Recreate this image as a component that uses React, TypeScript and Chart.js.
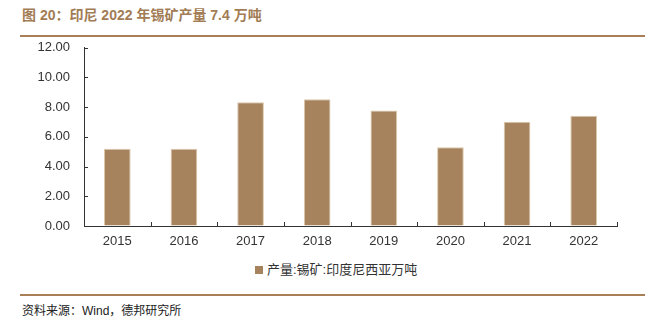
import React, { useEffect, useRef } from "react";
import { Chart, registerables } from "chart.js";

Chart.register(...registerables);

const categories = ["2015", "2016", "2017", "2018", "2019", "2020", "2021", "2022"];
const tinOutput = [5.2, 5.2, 8.33, 8.53, 7.78, 5.3, 7.02, 7.42];
const seriesLabel = "产量:锡矿:印度尼西亚万吨";
const yTicks = [0, 2, 4, 6, 8, 10, 12];

const FONT_NUM = "'Liberation Sans', Arial, sans-serif";
const FONT_CJK = "'Liberation Sans', 'Noto Sans CJK SC', sans-serif";
const BAR_COLOR = "#a6835c";

const innerTicks = {
  id: "innerTicks",
  afterDraw(chart: any) {
    const { ctx, chartArea, scales } = chart;
    const x = scales.x;
    const y = scales.y;
    ctx.save();
    ctx.strokeStyle = "#333333";
    ctx.lineWidth = 1;
    ctx.beginPath();
    yTicks.forEach((v) => {
      const py = Math.round(y.getPixelForValue(v)) + 0.5;
      ctx.moveTo(chartArea.left, py);
      ctx.lineTo(chartArea.left + 4, py);
    });
    for (let i = 1; i <= categories.length; i++) {
      const px = Math.round(x.getPixelForValue(i - 0.5)) + 0.5;
      ctx.moveTo(px, chartArea.bottom);
      ctx.lineTo(px, chartArea.bottom - 4);
    }
    ctx.stroke();
    ctx.restore();
  },
};

export default function App() {
  const ref = useRef<HTMLCanvasElement>(null);
  useEffect(() => {
    if (!ref.current) return;
    const chart = new Chart(ref.current, {
      type: "bar",
      data: {
        labels: categories,
        datasets: [
          {
            label: seriesLabel,
            data: tinOutput,
            backgroundColor: BAR_COLOR,
            borderColor: "#dcc8aa",
            borderWidth: 1,
            barPercentage: 0.4,
            categoryPercentage: 1,
          },
        ],
      },
      options: {
        animation: false,
        responsive: false,
        maintainAspectRatio: false,
        layout: { padding: { top: 20, right: 33, left: 0, bottom: 0 } },
        plugins: {
          tooltip: { enabled: false },
          legend: { display: false },
        },
        scales: {
          x: {
            offset: true,
            grid: { display: true, drawOnChartArea: false, drawTicks: false, color: "#333333" },
            border: { display: true, color: "#333333", width: 1 },
            ticks: { color: "#333333", font: { family: FONT_NUM, size: 13 }, padding: 8 },
            afterFit: (s: any) => {
              s.height = 28;
            },
          },
          y: {
            min: 0,
            max: 12,
            afterBuildTicks: (s: any) => {
              s.ticks = yTicks.map((v) => ({ value: v }));
            },
            grid: { drawOnChartArea: false, drawTicks: false },
            border: { display: true, color: "#333333", width: 1 },
            ticks: {
              color: "#333333",
              font: { family: FONT_NUM, size: 13 },
              padding: 14,
              callback: (v: any) => Number(v).toFixed(2),
            },
            afterFit: (s: any) => {
              s.width = 84;
            },
          },
        },
      },
      plugins: [innerTicks],
    });
    return () => chart.destroy();
  }, []);

  return (
    <div style={{ position: "absolute", left: 0, top: 0, width: 650, height: 333, background: "#fff", overflow: "hidden" }}>
      <div
        style={{
          position: "absolute",
          left: 22,
          top: 4,
          fontFamily: FONT_CJK,
          fontWeight: "bold",
          fontSize: 14,
          color: "#a27c55",
          whiteSpace: "nowrap",
        }}
      >
        图 20：印尼 2022 年锡矿产量 7.4 万吨
      </div>
      <div style={{ position: "absolute", left: 20, top: 35, width: 625, height: 2, background: "#a97f58" }} />
      <canvas ref={ref} width={650} height={228} style={{ position: "absolute", left: 0, top: 26 }} />
      <div
        style={{
          position: "absolute",
          left: 255,
          top: 261,
          display: "flex",
          alignItems: "center",
          fontFamily: FONT_CJK,
          fontSize: 13,
          color: "#333333",
          whiteSpace: "nowrap",
          lineHeight: "18px",
        }}
      >
        <span style={{ display: "inline-block", width: 8, height: 8, background: BAR_COLOR, marginRight: 4 }} />
        <span>{seriesLabel}</span>
      </div>
      <div style={{ position: "absolute", left: 20, top: 294, width: 625, height: 2, background: "#a97f58" }} />
      <div
        style={{
          position: "absolute",
          left: 22,
          top: 301,
          fontFamily: FONT_CJK,
          fontSize: 12,
          color: "#222",
          whiteSpace: "nowrap",
        }}
      >
        资料来源：Wind，德邦研究所
      </div>
    </div>
  );
}
